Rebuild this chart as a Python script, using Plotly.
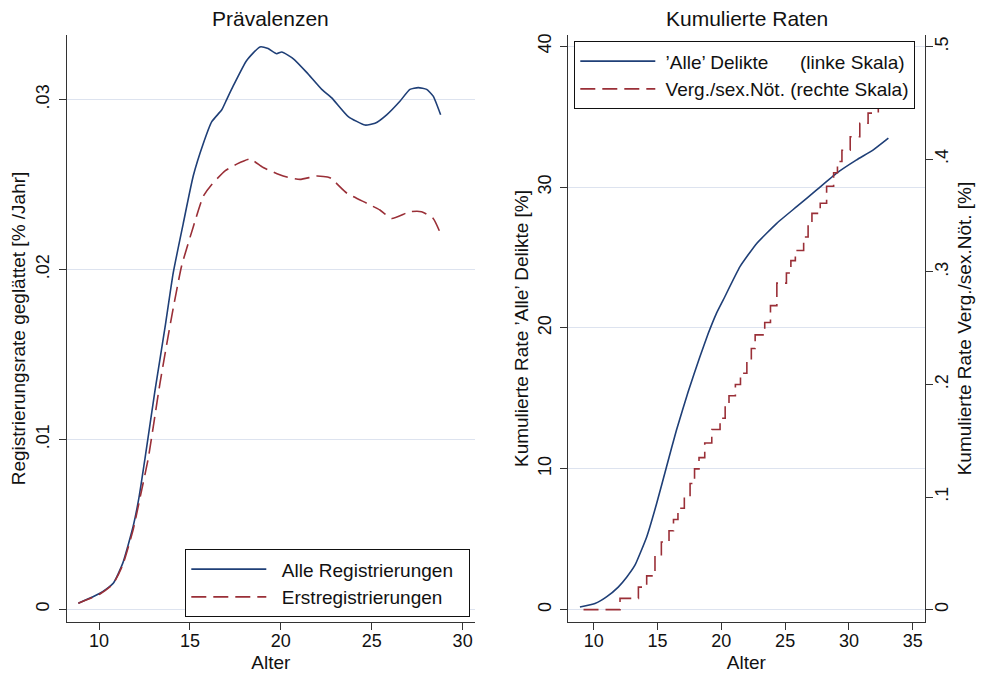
import plotly.graph_objects as go

# ---------------- data: left panel (Prävalenzen) ----------------
age_alle = [8.86, 10.05, 10.78, 11.3, 11.88, 12.2, 12.53, 13.08, 13.63, 14.08, 14.63, 15.18,
            15.73, 16.2, 16.75, 17.02, 17.38, 18.12, 18.85, 19.3, 19.77, 20.05, 20.69, 21.42,
            22.25, 22.8, 23.71, 24.63, 25.18, 25.82, 26.55, 27.1, 27.56, 28.02, 28.38, 28.79]
rate_alle = [0.00035, 0.00094, 0.00153, 0.0027, 0.0049, 0.0066, 0.0089, 0.0129, 0.0166, 0.0198,
             0.0227, 0.0255, 0.0274, 0.0287, 0.0294, 0.0300, 0.0308, 0.0323, 0.0331, 0.0330,
             0.0327, 0.0328, 0.0324, 0.0316, 0.0306, 0.0301, 0.0290, 0.0285, 0.0286, 0.0291,
             0.0299, 0.0306, 0.0307, 0.0306, 0.0302, 0.0291]

age_erst = [8.86, 10.05, 10.78, 11.3, 11.88, 12.3, 12.71, 13.35, 13.99, 14.54, 15.18, 15.73,
            16.2, 16.93, 17.57, 18.3, 19.03, 20.13, 21.05, 21.97, 22.7, 23.62, 24.72, 25.45,
            26.1, 27.1, 27.74, 28.38, 28.79]
rate_erst = [0.00035, 0.0009, 0.0015, 0.0026, 0.0047, 0.0068, 0.0089, 0.0133, 0.0172, 0.0202,
             0.0225, 0.0243, 0.0250, 0.0258, 0.0262, 0.0265, 0.0260, 0.0255, 0.0253, 0.0255,
             0.0254, 0.0245, 0.0239, 0.0235, 0.0230, 0.0234, 0.0234, 0.0230, 0.0221]

# ---------------- data: right panel (Kumulierte Raten) ----------------
age_kum_alle = [8.92, 10.1, 11.0, 11.92, 12.58, 13.23, 14.15, 14.93, 15.7, 16.48, 17.4, 18.32,
                18.97, 19.6, 20.15, 21.46, 22.77, 24.34, 25.9, 27.47, 29.04, 30.6, 31.91, 33.09]
kum_alle = [0.18, 0.43, 0.9, 1.6, 2.3, 3.15, 5.16, 7.53, 10.13, 12.74, 15.47, 17.95,
            19.6, 21.0, 21.99, 24.35, 26.0, 27.43, 28.61, 29.8, 30.99, 31.93, 32.64, 33.47]

age_kum_sex = [9.2, 12.06, 13.5, 14.15, 14.8, 15.3, 15.9, 16.25, 16.6, 17.1, 17.55, 17.9, 18.25,
               18.7, 19.25, 19.9, 20.3, 20.6, 21.1, 21.5, 22.0, 22.35, 22.65, 23.4, 23.85,
               24.35, 25.1, 25.45, 25.8, 26.45, 26.8, 27.1, 27.75, 28.25, 28.8, 29.1, 29.45,
               30.1, 30.85, 31.5, 32.3, 32.8, 33.1]
kum_sex = [0.0, 0.010, 0.020, 0.030, 0.048, 0.060, 0.070, 0.080, 0.090, 0.100, 0.112, 0.125,
           0.135, 0.148, 0.160, 0.170, 0.182, 0.190, 0.200, 0.210, 0.220, 0.232, 0.244, 0.255,
           0.270, 0.290, 0.299, 0.310, 0.319, 0.331, 0.342, 0.352, 0.361, 0.376, 0.388, 0.398,
           0.408, 0.420, 0.432, 0.441, 0.448, 0.458, 0.465]

left_yticks = [0, 0.01, 0.02, 0.03]
left_yticktext = ["0", ".01", ".02", ".03"]
left_xticks = [10, 15, 20, 25, 30]
right_xticks = [10, 15, 20, 25, 30, 35]
right_y2ticks = [0, 10, 20, 30, 40]
right_y3ticks = [0, 0.1, 0.2, 0.3, 0.4, 0.5]
right_y3ticktext = ["0", ".1", ".2", ".3", ".4", ".5"]

NAVY = "#1f3f77"
RED = "#9a2f37"
GRID = "#dde3ef"
AXC = "#333333"
FONT = "Liberation Sans, Arial, sans-serif"
W, H = 989, 673
NB = "\u00a0"

fig = go.Figure()
fig.add_trace(go.Scatter(x=age_alle, y=rate_alle, mode="lines",
                         name=NB * 2 + "Alle Registrierungen" + NB * 2,
                         line=dict(color=NAVY, width=1.6, shape="spline", smoothing=0.5),
                         xaxis="x", yaxis="y", legend="legend"))
fig.add_trace(go.Scatter(x=age_erst, y=rate_erst, mode="lines", name=NB * 2 + "Erstregistrierungen",
                         line=dict(color=RED, width=1.6, dash="15px,7px", shape="spline", smoothing=0.5),
                         xaxis="x", yaxis="y", legend="legend"))
fig.add_trace(go.Scatter(x=age_kum_alle, y=kum_alle, mode="lines",
                         name=NB + "’Alle’ Delikte" + NB * 6 + "(linke Skala)",
                         line=dict(color=NAVY, width=1.6, shape="spline", smoothing=0.4),
                         xaxis="x2", yaxis="y2", legend="legend2"))
fig.add_trace(go.Scatter(x=age_kum_sex, y=kum_sex, mode="lines",
                         name=NB + "Verg./sex.Nöt. (rechte Skala)",
                         line=dict(color=RED, width=1.6, dash="15px,7px", shape="hv"),
                         xaxis="x2", yaxis="y3", legend="legend2"))

def px_x(p):
    return p / W

def px_y(p):
    return 1 - p / H

axis_common = dict(showline=True, linecolor=AXC, linewidth=1.3, ticks="outside", ticklen=7,
                   tickcolor=AXC, tickwidth=1.3, zeroline=False,
                   tickfont=dict(family=FONT, size=18, color="#111111"),
                   title_font=dict(family=FONT, size=19, color="#111111"))

ydom = [px_y(622), px_y(35)]

fig.update_layout(
    width=W, height=H, margin=dict(l=0, r=0, t=0, b=0),
    paper_bgcolor="white", plot_bgcolor="white",
    font=dict(family=FONT, color="#111111"),
    xaxis=dict(domain=[px_x(66.7), px_x(475)], range=[8.22, 30.68], tickvals=left_xticks,
               showgrid=False, anchor="y", title=dict(text="Alter", standoff=8),
               ticklabelstandoff=-5, **axis_common),
    yaxis=dict(domain=ydom, range=[-0.00075, 0.0338], tickvals=left_yticks, ticktext=left_yticktext,
               tickangle=-90, showgrid=True, gridcolor=GRID, gridwidth=1.3, anchor="x",
               title=dict(text="Registrierungsrate geglättet [% /Jahr]", standoff=2),
               ticklabelstandoff=2, **axis_common),
    xaxis2=dict(domain=[px_x(567.7), px_x(925)], range=[7.96, 35.96], tickvals=right_xticks,
                showgrid=False, anchor="y2", title=dict(text="Alter", standoff=8),
                ticklabelstandoff=-5, **axis_common),
    yaxis2=dict(domain=ydom, range=[-0.88, 40.8], tickvals=right_y2ticks, tickangle=-90,
                showgrid=True, gridcolor=GRID, gridwidth=1.3, anchor="x2",
                title=dict(text="Kumulierte Rate ’Alle’ Delikte [%]", standoff=1),
                ticklabelstandoff=1, **axis_common),
    yaxis3=dict(domain=ydom, range=[-0.011, 0.5104], tickvals=right_y3ticks,
                ticktext=right_y3ticktext, tickangle=-90, showgrid=False, anchor="x2",
                overlaying="y2", side="right",
                title=dict(text="Kumulierte Rate Verg./sex.Nöt. [%]", standoff=6),
                ticklabelstandoff=-7, **axis_common),
    legend=dict(x=px_x(185), y=px_y(549), xanchor="left", yanchor="top",
                bgcolor="white", bordercolor="#111111", borderwidth=1.3,
                font=dict(family=FONT, size=19, color="#111111"), itemwidth=75,
                tracegroupgap=0),
    legend2=dict(x=px_x(574), y=px_y(41), xanchor="left", yanchor="top",
                 bgcolor="white", bordercolor="#111111", borderwidth=1.3,
                 font=dict(family=FONT, size=19, color="#111111"), itemwidth=75,
                 tracegroupgap=0),
    showlegend=True,
    annotations=[
        dict(text="Prävalenzen", x=px_x(270.5), y=px_y(18), xref="paper", yref="paper",
             showarrow=False, font=dict(family=FONT, size=21, color="#111111"),
             xanchor="center", yanchor="middle"),
        dict(text="Kumulierte Raten", x=px_x(746.5), y=px_y(18), xref="paper", yref="paper",
             showarrow=False, font=dict(family=FONT, size=21, color="#111111"),
             xanchor="center", yanchor="middle"),
    ],
)

fig.write_html("out.html")
